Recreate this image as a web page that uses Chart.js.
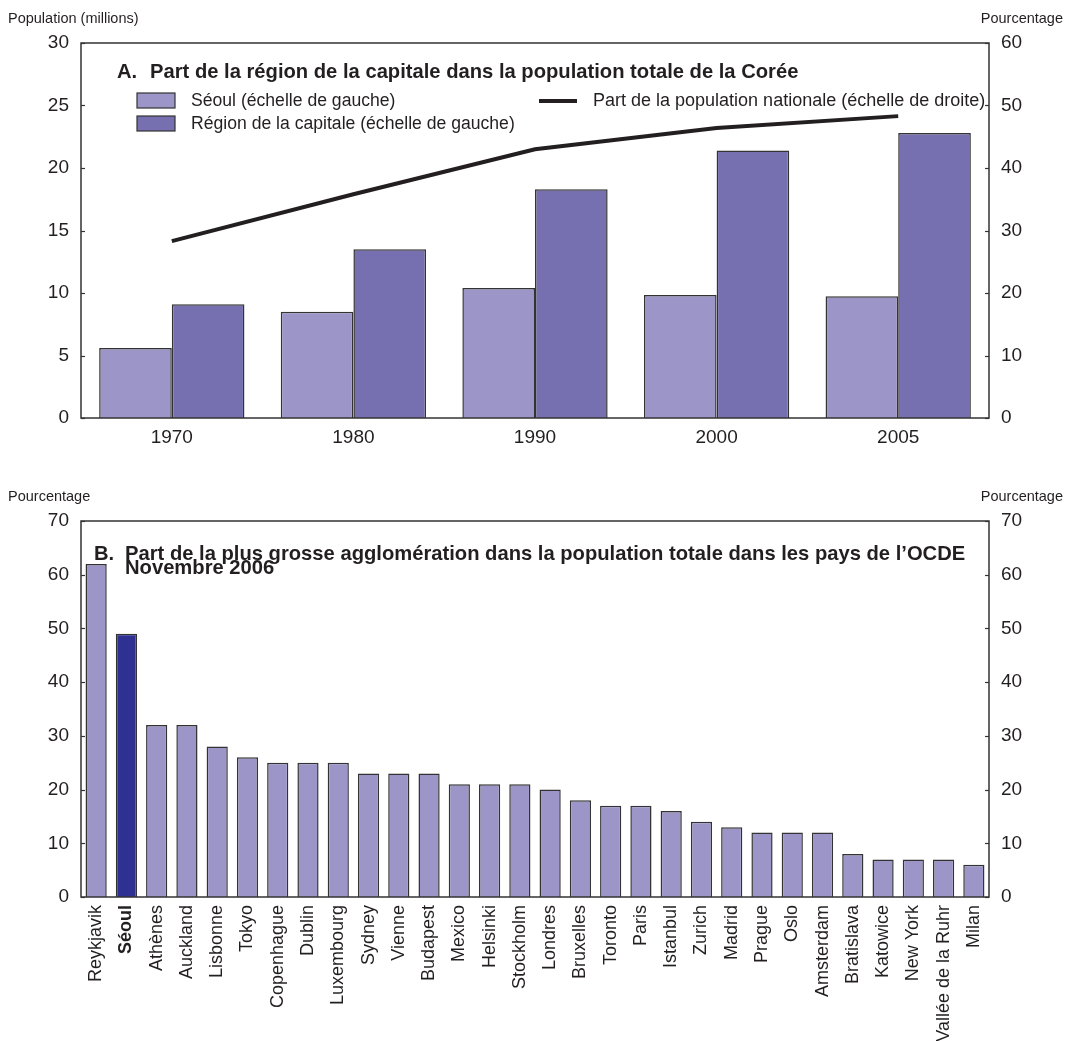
<!DOCTYPE html>
<html><head><meta charset="utf-8">
<script src="https://cdn.jsdelivr.net/npm/chart.js@4.4.0/dist/chart.umd.min.js"></script>
<style>
html,body{margin:0;padding:0;background:#fff;}
body{width:1069px;height:1041px;position:relative;overflow:hidden;font-family:"Liberation Sans",Arial,sans-serif;color:#231f20;}
.wrap{position:absolute;left:0;width:1069px;}
.unit{position:absolute;font-size:14.5px;line-height:16px;white-space:nowrap;}
</style></head><body>
<div class="wrap" style="top:0;height:460px"><canvas id="cA" width="1069" height="460"></canvas></div>
<div class="wrap" style="top:480px;height:561px"><canvas id="cB" width="1069" height="561"></canvas></div>
<div class="unit" style="left:8px;top:10px">Population (millions)</div>
<div class="unit" style="right:6px;top:10px">Pourcentage</div>
<div class="unit" style="left:8px;top:488px">Pourcentage</div>
<div class="unit" style="right:6px;top:488px">Pourcentage</div>
<script>
// ---------- Data: panel A ----------
const years = ['1970', '1980', '1990', '2000', '2005'];
const seoulPop = [5.6, 8.5, 10.4, 9.85, 9.75];
const capitalPop = [9.1, 13.5, 18.3, 21.4, 22.8];
const nationalShare = [28.3, 35.8, 43.0, 46.4, 48.3];
const seriesLabelsA = ['Séoul (échelle de gauche)', 'Région de la capitale (échelle de gauche)', 'Part de la population nationale (échelle de droite)'];
const titleA = ['A.', 'Part de la région de la capitale dans la population totale de la Corée'];
const leftTicksA = {min: 0, max: 30, step: 5};
const rightTicksA = {min: 0, max: 60, step: 10};

// ---------- Data: panel B ----------
const cities = ['Reykjavik', 'Séoul', 'Athènes', 'Auckland', 'Lisbonne', 'Tokyo', 'Copenhague', 'Dublin', 'Luxembourg', 'Sydney', 'Vienne', 'Budapest', 'Mexico', 'Helsinki', 'Stockholm', 'Londres', 'Bruxelles', 'Toronto', 'Paris', 'Istanbul', 'Zurich', 'Madrid', 'Prague', 'Oslo', 'Amsterdam', 'Bratislava', 'Katowice', 'New York', 'Vallée de la Ruhr', 'Milan'];
const cityShares = [62, 49, 32, 32, 28, 26, 25, 25, 25, 23, 23, 23, 21, 21, 21, 20, 18, 17, 17, 16, 14, 13, 12, 12, 12, 8, 7, 7, 7, 6];
const highlightCity = 'Séoul';
const titleB = ['B.', 'Part de la plus grosse agglomération dans la population totale dans les pays de l’OCDE', 'Novembre 2006'];
const ticksB = {min: 0, max: 70, step: 10};

// ---------- Styles ----------
const FONT = "'Liberation Sans', Arial, sans-serif";
const TXT = '#231f20';
const LIGHT = '#9c96c8';
const DARK = '#7670b0';
const HILITE = '#2e3192';
const EDGE = '#333333';
Chart.defaults.font.family = FONT;
Chart.defaults.color = TXT;
Chart.defaults.animation = false;

const framePlugin = {
  id: 'frame',
  afterDatasetsDraw(chart) {
    const {ctx, chartArea: a} = chart;
    ctx.save();
    ctx.strokeStyle = EDGE;
    ctx.lineWidth = 1.5;
    ctx.strokeRect(a.left, a.top, a.right - a.left, a.bottom - a.top);
    ctx.lineWidth = 1.2;
    ['y', 'y1'].forEach(id => {
      const s = chart.scales[id];
      if (!s) return;
      const x0 = s.position === 'left' ? a.left : a.right;
      const dir = s.position === 'left' ? 1 : -1;
      s.ticks.forEach(t => {
        const py = Math.round(s.getPixelForValue(t.value)) + 0.5;
        ctx.beginPath();
        ctx.moveTo(x0, py);
        ctx.lineTo(x0 + dir * 4, py);
        ctx.stroke();
      });
    });
    ctx.restore();
  }
};

const legendA = {
  id: 'legendA',
  afterDraw(chart) {
    const ctx = chart.ctx;
    const ds = chart.data.datasets;
    ctx.save();
    ctx.textBaseline = 'middle';
    ctx.fillStyle = TXT;
    ctx.font = 'bold 20.2px ' + FONT;
    ctx.fillText(titleA[0], 117, 72);
    ctx.fillText(titleA[1], 150, 72);
    ctx.font = '17.6px ' + FONT;
    [[ds[1], 93], [ds[2], 116]].forEach(([d, y]) => {
      ctx.fillStyle = d.backgroundColor;
      ctx.fillRect(137, y, 38, 15);
      ctx.strokeStyle = EDGE; ctx.lineWidth = 1.2;
      ctx.strokeRect(137, y, 38, 15);
      ctx.fillStyle = TXT;
      ctx.fillText(d.label, 191, y + 8);
    });
    ctx.strokeStyle = ds[0].borderColor; ctx.lineWidth = 4;
    ctx.beginPath(); ctx.moveTo(539, 101); ctx.lineTo(577, 101); ctx.stroke();
    ctx.fillStyle = TXT;
    ctx.font = '18px ' + FONT;
    ctx.fillText(ds[0].label, 593, 101);
    ctx.restore();
  }
};

const titleBPlugin = {
  id: 'titleB',
  afterDraw(chart) {
    const ctx = chart.ctx;
    ctx.save();
    ctx.textBaseline = 'middle';
    ctx.fillStyle = TXT;
    ctx.font = 'bold 20.2px ' + FONT;
    ctx.fillText(titleB[0], 94, 74);
    ctx.fillText(titleB[1], 125, 74);
    ctx.fillText(titleB[2], 125, 88);
    ctx.restore();
  }
};

function yAxis(pos, t, width) {
  return {
    position: pos, min: t.min, max: t.max,
    ticks: {stepSize: t.step, padding: 12, color: TXT, font: {size: 19}},
    grid: {display: false, drawTicks: false},
    border: {display: false},
    afterFit(s) { s.width = width; }
  };
}

new Chart(document.getElementById('cA'), {
  data: {
    labels: years,
    datasets: [
      {type: 'line', label: seriesLabelsA[2], data: nationalShare, yAxisID: 'y1',
       borderColor: '#231f20', borderWidth: 4, pointRadius: 0, tension: 0, order: 0},
      {type: 'bar', label: seriesLabelsA[0], data: seoulPop, yAxisID: 'y',
       backgroundColor: LIGHT, borderColor: EDGE, borderWidth: 1.5, order: 1,
       barPercentage: 1, categoryPercentage: 0.8},
      {type: 'bar', label: seriesLabelsA[1], data: capitalPop, yAxisID: 'y',
       backgroundColor: DARK, borderColor: EDGE, borderWidth: 1.5, order: 1,
       barPercentage: 1, categoryPercentage: 0.8}
    ]
  },
  options: {
    responsive: false,
    layout: {padding: {top: 43, left: 0, right: 0, bottom: 0}},
    plugins: {legend: {display: false}, tooltip: {enabled: false}},
    scales: {
      x: {grid: {display: false, drawTicks: false}, border: {display: false},
          ticks: {padding: 8, color: TXT, font: {size: 19}},
          afterFit(s) { s.height = 42; }},
      y: yAxis('left', leftTicksA, 81),
      y1: yAxis('right', rightTicksA, 80)
    }
  },
  plugins: [framePlugin, legendA]
});

new Chart(document.getElementById('cB'), {
  type: 'bar',
  data: {
    labels: cities,
    datasets: [{
      label: titleB[1], data: cityShares,
      backgroundColor: cities.map(c => c === highlightCity ? HILITE : LIGHT),
      borderColor: EDGE, borderWidth: 1.5,
      barPercentage: 0.7, categoryPercentage: 1
    }]
  },
  options: {
    responsive: false,
    layout: {padding: {top: 41, left: 0, right: 0, bottom: 0}},
    plugins: {legend: {display: false}, tooltip: {enabled: false}},
    scales: {
      x: {grid: {display: false, drawTicks: false}, border: {display: false},
          ticks: {padding: 8, color: TXT, autoSkip: false, minRotation: 90, maxRotation: 90,
                  font: (c) => ({size: 18, weight: cities[c.index] === highlightCity ? 'bold' : 'normal'})},
          afterFit(s) { s.height = 144; }},
      y: yAxis('left', ticksB, 81),
      y1: yAxis('right', ticksB, 80)
    }
  },
  plugins: [framePlugin, titleBPlugin]
});
</script>
</body></html>
